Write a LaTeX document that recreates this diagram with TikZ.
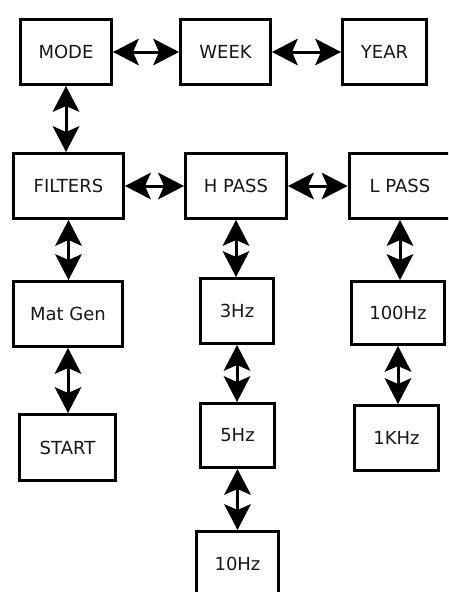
\documentclass[tikz,border=0pt]{standalone}
\usepackage{fontspec}
\setmainfont{DejaVu Sans}
\usetikzlibrary{arrows.meta}
\tikzset{
  box/.style={draw=black, line width=3pt, fill=white, inner sep=0pt,
    font=\fontsize{18}{21}\selectfont, text=black!90},
  link/.style={line width=3pt, {Stealth[length=26pt,width=27pt,inset=6pt,line width=0pt]}-{Stealth[length=26pt,width=27pt,inset=6pt,line width=0pt]}}
}
\begin{document}
\begin{tikzpicture}[x=1pt,y=-1pt]
  \clip (0,0) rectangle (448,592);
  \useasboundingbox (0,0) rectangle (448,592);
  % top row
  \node[box, minimum width=91pt, minimum height=65pt] (mode) at (66,52) {MODE};
  \node[box, minimum width=90pt, minimum height=65pt] (week) at (225.5,52) {WEEK};
  \node[box, minimum width=84pt, minimum height=65pt] (year) at (384.5,52) {YEAR};
  % filter row
  \node[box, minimum width=110pt, minimum height=65pt] (filters) at (68.5,186) {FILTERS};
  \node[box, minimum width=101pt, minimum height=65pt] (hpass) at (236,186) {H PASS};
  \node[box, minimum width=102pt, minimum height=65pt] (lpass) at (400,186) {L PASS};
  % lower boxes
  \node[box, minimum width=109pt, minimum height=65pt] (matgen) at (68,314) {Mat Gen};
  \node[box, minimum width=96pt, minimum height=66pt] (start) at (67.5,447.5) {START};
  \node[box, minimum width=73pt, minimum height=65pt] (hz3) at (237,311) {3Hz};
  \node[box, minimum width=74pt, minimum height=64pt] (hz5) at (237.5,435.5) {5Hz};
  \node[box, minimum width=82pt, minimum height=65pt] (hz10) at (237.5,564) {10Hz};
  \node[box, minimum width=93pt, minimum height=63pt] (hz100) at (398,313) {100Hz};
  \node[box, minimum width=84pt, minimum height=65pt] (khz1) at (396.5,438) {1KHz};
  % horizontal links
  \draw[link] (mode) -- (week);
  \draw[link] (week) -- (year);
  \draw[link] (filters.east |- hpass) -- (hpass);
  \draw[link] (hpass) -- (lpass);
  % vertical links
  \draw[link] (mode) -- (mode |- filters.north);
  \draw[link] (filters) -- (filters |- matgen.north);
  \draw[link] (matgen) -- (matgen |- start.north);
  \draw[link] (hpass) -- (hpass |- hz3.north);
  \draw[link] (hz3) -- (hz3 |- hz5.north);
  \draw[link] (hz5) -- (hz5 |- hz10.north);
  \draw[link] (lpass) -- (lpass |- hz100.north);
  \draw[link] (hz100) -- (hz100 |- khz1.north);
\end{tikzpicture}
\end{document}
